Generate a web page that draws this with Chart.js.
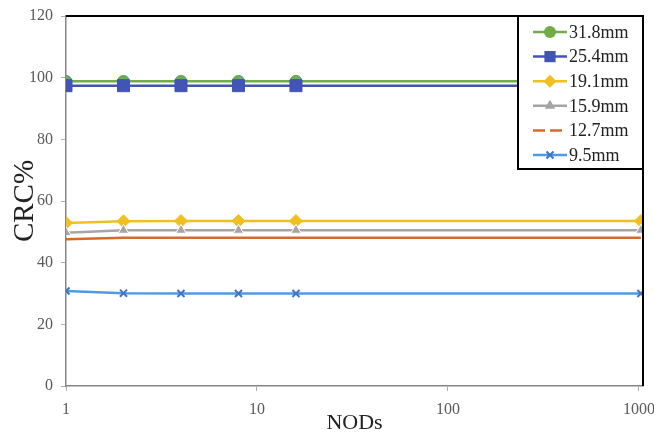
<!DOCTYPE html>
<html>
<head>
<meta charset="utf-8">
<script src="https://cdn.jsdelivr.net/npm/chart.js@4/dist/chart.umd.min.js"></script>
<style>
  html, body { margin: 0; padding: 0; background: #fff; }
  #wrap { width: 654px; height: 435px; }
</style>
</head>
<body>
<div id="wrap"><canvas id="grafico" width="654" height="435"></canvas></div>
<script>
// dados
const nods = [1, 2, 4, 8, 16, 1024];
const xTicks = [1, 10, 100, 1000];
const yTicks = [0, 20, 40, 60, 80, 100, 120];

const rotulos = ['31.8mm', '25.4mm', '19.1mm', '15.9mm', '12.7mm', '9.5mm'];
const crc318 = [98.8, 98.8, 98.8, 98.8, 98.8, 98.8];
const crc254 = [97.4, 97.4, 97.4, 97.4, 97.4, 97.4];
const crc191 = [52.9, 53.4, 53.5, 53.5, 53.5, 53.5];
const crc159 = [49.7, 50.5, 50.5, 50.5, 50.5, 50.5];
const crc127 = [47.6, 48.1, 48.1, 48.1, 48.1, 48.1];
const crc95 = [30.8, 30.1, 30.0, 30.0, 30.0, 30.0];

const series = [crc318, crc254, crc191, crc159, crc127, crc95];
const cores = ['#70ad47', '#4254b5', '#f0c020', '#a5a5a5', '#d9692a', '#4d9be8'];
const marcadores = ['circle', 'rect', 'rectRot', 'triangle', false, 'crossRot'];
const raios = [6, 8.5, 6.5, 6, 0, 5];
const ordens = [6, 5, 4, 1.5, 2, 1];

const serif = '"Liberation Serif", "DejaVu Serif", serif';

const bordasPonto = ['#5b9bd5', '#4254b5', '#f0c020', '#ffffff', '#d9692a', '#4472c4'];

const datasets = series.map((valores, i) => ({
  label: rotulos[i],
  data: nods.map((x, j) => ({ x, y: valores[j] })),
  borderColor: cores[i],
  backgroundColor: i === 5 ? '#4472c4' : cores[i],
  pointBorderColor: bordasPonto[i],
  pointStyle: marcadores[i],
  pointRadius: raios[i],
  pointBorderWidth: i === 5 ? 2 : 1,
  borderWidth: 2.5,
  tension: 0,
  order: ordens[i]
}));

// moldura preta em cima e a direita
const molduraPlugin = {
  id: 'moldura',
  afterDatasetsDraw(chart) {
    const { ctx, chartArea: a } = chart;
    ctx.save();
    ctx.strokeStyle = '#000';
    ctx.lineWidth = 2;
    ctx.beginPath();
    ctx.moveTo(a.left, a.top);
    ctx.lineTo(a.right, a.top);
    ctx.lineTo(a.right, a.bottom);
    ctx.stroke();
    ctx.restore();
  }
};

function desenharMarcador(ctx, tipo, x, y, r, cor, borda) {
  ctx.fillStyle = cor;
  ctx.strokeStyle = borda;
  ctx.beginPath();
  if (tipo === 'circle') {
    ctx.arc(x, y, r, 0, Math.PI * 2);
    ctx.fill();
  } else if (tipo === 'rect') {
    const m = r * 0.7;
    ctx.rect(x - m, y - m, m * 2, m * 2);
    ctx.fill();
  } else if (tipo === 'rectRot') {
    ctx.moveTo(x, y - r); ctx.lineTo(x + r, y); ctx.lineTo(x, y + r); ctx.lineTo(x - r, y);
    ctx.closePath();
    ctx.fill();
  } else if (tipo === 'triangle') {
    ctx.moveTo(x, y - r); ctx.lineTo(x + r * 0.87, y + r * 0.5); ctx.lineTo(x - r * 0.87, y + r * 0.5);
    ctx.closePath();
    ctx.fill();
  } else if (tipo === 'crossRot') {
    const d = r * 0.7;
    ctx.lineWidth = 2;
    ctx.moveTo(x - d, y - d); ctx.lineTo(x + d, y + d);
    ctx.moveTo(x + d, y - d); ctx.lineTo(x - d, y + d);
    ctx.stroke();
  }
}

// legenda desenhada dentro da area do grafico
const legendaPlugin = {
  id: 'legendaCaixa',
  afterDraw(chart) {
    const { ctx, chartArea: a } = chart;
    const x0 = 518, y0 = a.top, w = a.right - x0, h = 153;
    ctx.save();
    ctx.fillStyle = '#fff';
    ctx.fillRect(x0, y0, w, h);
    ctx.strokeStyle = '#000';
    ctx.lineWidth = 2;
    ctx.strokeRect(x0, y0, w, h);
    ctx.font = '18px ' + serif;
    ctx.textBaseline = 'middle';
    chart.data.datasets.forEach((ds, i) => {
      const y = 32 + i * 24.6;
      ctx.strokeStyle = ds.borderColor;
      ctx.lineWidth = 2.5;
      ctx.setLineDash(ds.pointStyle ? [] : [12, 5]);
      ctx.beginPath();
      ctx.moveTo(533, y);
      ctx.lineTo(567, y);
      ctx.stroke();
      ctx.setLineDash([]);
      if (ds.pointStyle) {
        const r = ds.pointStyle === 'rect' ? 8 : ds.pointRadius;
        desenharMarcador(ctx, ds.pointStyle, 550, y, r, ds.backgroundColor, ds.pointBorderColor);
      }
      ctx.fillStyle = '#222';
      ctx.fillText(ds.label, 569, y + 1);
    });
    ctx.restore();
  }
};

new Chart(document.getElementById('grafico'), {
  type: 'line',
  data: { datasets },
  plugins: [molduraPlugin, legendaPlugin],
  options: {
    responsive: false,
    animation: false,
    layout: { padding: { top: 16, right: 11, left: 0, bottom: 0 } },
    plugins: {
      legend: { display: false },
      tooltip: { enabled: false }
    },
    scales: {
      x: {
        type: 'logarithmic',
        min: 1,
        max: 1050,
        afterBuildTicks: s => { s.ticks = xTicks.map(v => ({ value: v })); },
        afterFit: s => { s.height = 49; s.paddingLeft = 0; s.paddingRight = 0; },
        grid: { drawOnChartArea: false, tickLength: 5, color: '#b0b0b0' },
        border: { color: '#868686', width: 1.5 },
        ticks: {
          autoSkip: false,
          maxRotation: 0,
          padding: 9,
          color: '#595959',
          font: { family: serif, size: 16 },
          callback: v => String(v)
        },
        title: {
          display: true,
          text: 'NODs',
          color: '#222',
          padding: { top: 0, bottom: -1 },
          font: { family: serif, size: 22 }
        }
      },
      y: {
        min: 0,
        max: 120,
        afterBuildTicks: s => { s.ticks = yTicks.map(v => ({ value: v })); },
        afterFit: s => { s.width = 66; s.paddingTop = 0; s.paddingBottom = 0; },
        grid: { drawOnChartArea: false, tickLength: 5, color: '#b0b0b0' },
        border: { color: '#868686', width: 1.5 },
        ticks: {
          padding: 8,
          color: '#595959',
          font: { family: serif, size: 16 }
        },
        title: {
          display: true,
          text: 'CRC%',
          color: '#222',
          padding: { top: 8, bottom: 0 },
          font: { family: serif, size: 29 }
        }
      }
    }
  }
});
</script>
</body>
</html>
